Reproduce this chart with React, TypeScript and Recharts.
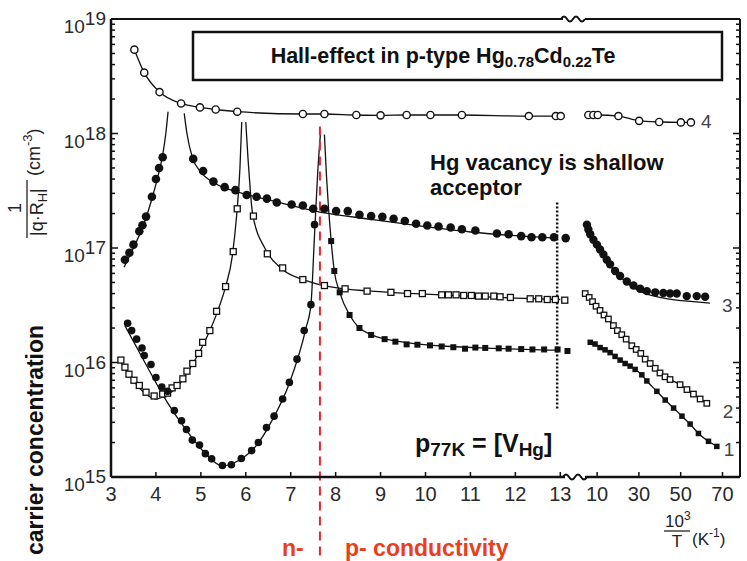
import React from 'react';
import { ComposedChart, Line, Scatter, XAxis, YAxis, ReferenceLine } from 'recharts';

type Pt = [number, number];

// left section: x = 10^3/T (3..13); right section: x in its own axis units (10..70)
const leftTicks = [3, 4, 5, 6, 7, 8, 9, 10, 11, 12, 13];
const rightTicks = [10, 30, 50, 70];
const decades = [15, 16, 17, 18, 19];

const curve4Left: Pt[] = [
  [3.52, 5.4e18], [3.74, 3.4e18], [4.08, 2.3e18], [4.56, 1.83e18], [4.98, 1.69e18], [5.33, 1.62e18],
  [5.81, 1.55e18], [7.27, 1.48e18], [7.75, 1.48e18], [8.46, 1.45e18], [9.0, 1.44e18], [9.58, 1.45e18],
  [10.11, 1.45e18], [10.81, 1.45e18], [12.3, 1.42e18], [12.9, 1.42e18], [13.01, 1.42e18],
];
const curve4Right: Pt[] = [
  [5.8, 1.45e18], [8.2, 1.45e18], [10.3, 1.45e18], [20.2, 1.42e18], [30.1, 1.29e18], [39.7, 1.26e18],
  [50.1, 1.25e18], [54.9, 1.25e18],
];

const curve3RiseDots: Pt[] = [
  [3.31, 7.9e16], [3.41, 9.1e16], [3.5, 1.07e17], [3.63, 1.4e17], [3.7, 1.58e17], [3.78, 1.88e17],
  [3.91, 2.8e17], [4.0, 4.0e17], [4.07, 5.0e17], [4.15, 6.2e17],
];
const curve3RiseFit: Pt[] = [
  [3.29, 6.8e16], [3.5, 1.0e17], [3.7, 1.5e17], [3.9, 2.6e17], [4.05, 4.3e17], [4.15, 6.5e17],
  [4.22, 1.0e18], [4.27, 1.55e18],
];
const curve3FallDots: Pt[] = [
  [4.83, 6.0e17], [5.05, 4.7e17], [5.28, 3.8e17], [5.53, 3.4e17], [5.77, 3.2e17], [6.02, 2.9e17],
  [6.24, 2.8e17], [6.47, 2.7e17], [6.69, 2.5e17], [7.02, 2.4e17], [7.27, 2.35e17], [7.5, 2.2e17],
  [7.75, 2.2e17], [8.01, 2.1e17], [8.27, 2.1e17], [8.53, 1.95e17], [8.79, 1.9e17], [9.04, 1.87e17],
  [9.29, 1.8e17], [9.54, 1.72e17], [9.79, 1.63e17], [10.04, 1.57e17], [10.29, 1.54e17], [10.56, 1.51e17],
  [10.81, 1.46e17], [11.11, 1.42e17], [11.59, 1.34e17], [11.85, 1.32e17], [12.13, 1.27e17],
  [12.36, 1.24e17], [12.6, 1.24e17], [12.86, 1.24e17], [13.12, 1.22e17],
];
const curve3FallFit: Pt[] = [
  [4.63, 1.5e18], [4.69, 1.0e18], [4.81, 6.2e17], [5.0, 4.6e17], [5.3, 3.7e17], [5.8, 3.1e17],
  [6.56, 2.6e17], [7.68, 2.05e17], [8.79, 1.78e17], [9.91, 1.55e17], [11.0, 1.38e17], [12.0, 1.28e17],
  [12.9, 1.22e17],
];
const curve3RightDots: Pt[] = [
  [5.1, 1.6e17], [5.8, 1.45e17], [6.7, 1.32e17], [8.2, 1.18e17], [9.9, 1.07e17], [11.4, 9.7e16],
  [13.0, 8.8e16], [14.6, 7.9e16], [16.2, 7.2e16], [18.6, 6.3e16], [21.0, 5.7e16], [24.2, 5.1e16],
  [27.4, 4.7e16], [30.6, 4.4e16], [33.8, 4.2e16], [37.8, 4.1e16], [41.7, 4.05e16], [44.9, 4.0e16],
  [48.1, 4.0e16], [52.9, 3.8e16], [57.7, 3.8e16], [61.7, 3.75e16],
];
const curve3RightFit: Pt[] = [
  [5.1, 1.6e17], [9.9, 1.05e17], [16.2, 7.0e16], [21.0, 5.6e16], [27.4, 4.5e16], [33.8, 3.95e16],
  [40, 3.7e16], [48, 3.5e16], [56, 3.4e16], [64, 3.3e16],
];

const curve2RiseDots: Pt[] = [
  [3.22, 1.05e16], [3.31, 9.1e15], [3.4, 7.9e15], [3.51, 7.0e15], [3.63, 6.3e15], [3.78, 5.5e15],
  [3.96, 5.1e15], [4.15, 5.3e15], [4.26, 5.4e15], [4.36, 6.0e15], [4.47, 6.3e15], [4.6, 7.2e15],
  [4.69, 8.4e15], [4.82, 9.8e15], [4.95, 1.2e16], [5.04, 1.5e16], [5.2, 1.9e16], [5.35, 2.8e16],
  [5.55, 4.6e16], [5.72, 9.3e16], [5.81, 2.2e17],
];
const curve2RiseFit: Pt[] = [
  [3.22, 1.0e16], [3.5, 6.9e15], [3.8, 5.2e15], [4.0, 4.8e15], [4.2, 5.1e15], [4.5, 6.3e15],
  [4.8, 9.5e15], [5.0, 1.3e16], [5.2, 1.9e16], [5.4, 3.0e16], [5.55, 4.6e16], [5.7, 8.5e16],
  [5.8, 2.0e17], [5.87, 5.0e17], [5.91, 1.26e18],
];
const curve2FallDots: Pt[] = [
  [6.17, 1.9e17], [6.48, 8.9e16], [6.82, 6.7e16], [7.27, 5.3e16], [7.75, 4.7e16], [8.21, 4.4e16],
  [8.7, 4.2e16], [9.23, 4.1e16], [9.6, 4.0e16], [9.93, 4.0e16], [10.36, 3.9e16], [10.51, 3.9e16],
  [10.68, 3.9e16], [10.85, 3.85e16], [11.02, 3.85e16], [11.18, 3.8e16], [11.33, 3.8e16], [11.52, 3.8e16],
  [11.66, 3.75e16], [11.89, 3.7e16], [12.33, 3.6e16], [12.52, 3.6e16], [12.71, 3.55e16], [12.89, 3.55e16],
  [13.1, 3.5e16],
];
const curve2FallFit: Pt[] = [
  [6.0, 1.26e18], [6.05, 6.0e17], [6.1, 3.2e17], [6.15, 2.0e17], [6.44, 9.7e16], [6.82, 6.5e16],
  [7.34, 5.2e16], [8.0, 4.5e16], [8.79, 4.2e16], [10.0, 3.95e16], [11.0, 3.8e16], [12.0, 3.65e16],
  [13.0, 3.55e16],
];
const curve2Right: Pt[] = [
  [4.3, 4.0e16], [6.2, 3.7e16], [7.8, 3.4e16], [9.5, 3.1e16], [11.4, 2.85e16], [13.3, 2.6e16],
  [15.4, 2.4e16], [17.8, 2.1e16], [19.7, 1.9e16], [21.8, 1.75e16], [23.9, 1.6e16], [26.6, 1.4e16],
  [28.7, 1.3e16], [30.9, 1.2e16], [33.0, 1.07e16], [35.4, 9.8e15], [37.8, 8.9e15], [40.1, 8.1e15],
  [42.5, 7.5e15], [44.9, 7.1e15], [49.7, 6.4e15], [53.0, 5.8e15], [56.1, 5.3e15], [59.3, 4.8e15],
  [62.5, 4.4e15],
];

const curve1LeftDots: Pt[] = [
  [3.37, 2.2e16], [3.46, 1.9e16], [3.57, 1.6e16], [3.69, 1.34e16], [3.74, 1.15e16], [3.89, 9.6e15],
  [4.0, 7.4e15], [4.13, 6.1e15], [4.26, 5.6e15], [4.41, 3.8e15], [4.57, 3.1e15], [4.68, 2.6e15],
  [4.81, 2.1e15], [4.97, 1.9e15], [5.1, 1.6e15], [5.24, 1.44e15], [5.48, 1.26e15], [5.68, 1.28e15],
  [5.9, 1.45e15], [6.13, 1.7e15], [6.28, 2.0e15], [6.46, 2.7e15], [6.63, 3.4e15], [6.82, 4.8e15],
  [6.97, 6.7e15], [7.14, 1.07e16], [7.3, 1.9e16], [7.45, 3.2e16], [7.53, 1.6e17],
];
const curve1LeftFit: Pt[] = [
  [3.31, 2.1e16], [3.76, 9.9e15], [4.25, 4.5e15], [4.73, 2.4e15], [5.1, 1.6e15], [5.48, 1.25e15],
  [5.85, 1.4e15], [6.22, 1.85e15], [6.6, 3.2e15], [6.97, 6.6e15], [7.34, 2.0e16], [7.45, 3.2e16],
  [7.53, 1.3e17], [7.6, 4.5e17], [7.66, 9.8e17],
];
const curve1FallDots: Pt[] = [
  [7.9, 1.15e17], [7.97, 6.3e16], [8.09, 4.1e16], [8.31, 2.6e16], [8.53, 2.0e16], [8.79, 1.74e16],
  [9.09, 1.6e16], [9.33, 1.52e16], [9.58, 1.44e16], [9.82, 1.43e16], [10.1, 1.41e16], [10.36, 1.38e16],
  [10.62, 1.36e16], [10.88, 1.32e16], [11.11, 1.35e16], [11.33, 1.34e16], [11.63, 1.33e16],
  [11.85, 1.32e16], [12.13, 1.31e16], [12.38, 1.3e16], [12.64, 1.3e16], [12.94, 1.3e16], [13.16, 1.26e16],
];
const curve1FallFit: Pt[] = [
  [7.75, 9.8e17], [7.8, 4.0e17], [7.9, 1.15e17], [7.97, 6.3e16], [8.09, 4.1e16], [8.31, 2.6e16],
  [8.53, 2.0e16], [8.79, 1.75e16], [9.54, 1.5e16], [10.29, 1.4e16], [11.5, 1.33e16], [12.9, 1.28e16],
];
const curve1Right: Pt[] = [
  [6.7, 1.5e16], [9.0, 1.45e16], [11.4, 1.35e16], [13.8, 1.29e16], [16.2, 1.22e16], [18.6, 1.13e16],
  [21.0, 1.05e16], [23.4, 9.8e15], [25.8, 9.3e15], [28.2, 8.7e15], [31.4, 7.8e15], [33.8, 6.9e15],
  [38.6, 5.6e15], [42.6, 4.7e15], [46.6, 4.0e15], [50.6, 3.4e15], [54.5, 2.9e15], [58.5, 2.4e15],
  [63.3, 2.05e15], [67.3, 1.85e15],
];

const crossoverX = 7.65; // n/p conductivity change
const cutoffX = 12.93; // 77 K

// the broken axis: right section is drawn compressed after the 13 tick
const RIGHT_START = 13.82;
const RIGHT_SCALE = 0.0465;
const toRight = (x: number) => RIGHT_START + (x - 10) * RIGHT_SCALE;
const asLeft = (pts: Pt[]) => pts.map(([x, y]) => ({ x, y }));
const asRight = (pts: Pt[]) => pts.map(([x, y]) => ({ x: toRight(x), y }));

const xTicks = [...leftTicks, ...rightTicks.map(toRight)];
const xLabel = (v: number) => {
  if (v < 13.5) return String(Math.round(v));
  const i = rightTicks.findIndex((t) => Math.abs(toRight(t) - v) < 1e-6);
  return i >= 0 ? String(rightTicks[i]) : '';
};
const yTicks: number[] = [];
decades.forEach((d) => {
  if (d === 19) {
    yTicks.push(1e19);
    return;
  }
  for (let m = 1; m <= 9; m++) yTicks.push(m * Math.pow(10, d));
});
const isMajor = (v: number) => {
  const e = Math.round(Math.log10(v));
  return Math.abs(v - Math.pow(10, e)) < v * 1e-6;
};

const INK = '#111';
const NUM_FONT = "'Liberation Sans Narrow', 'Liberation Sans', Arial, sans-serif";
const BOLD_FONT = "'Liberation Sans', Arial, sans-serif";
const RED = '#e8401c';

const LeftTick = (p: any) => {
  const v = p.payload.value;
  const major = isMajor(v);
  const e = Math.round(Math.log10(v));
  return (
    <g>
      <line x1={p.x} y1={p.y} x2={p.x + (major ? 7 : 4)} y2={p.y} stroke={INK} strokeWidth={1.5} />
      {major && (
        <text x={p.x - 5} y={p.y + 14} textAnchor="end" fontFamily={NUM_FONT} fontSize={19} fill="#2a2a2a">
          10<tspan dy={-8}>{e}</tspan>
        </text>
      )}
    </g>
  );
};
const RightTick = (p: any) => {
  const major = isMajor(p.payload.value);
  return <line x1={p.x} y1={p.y} x2={p.x - (major ? 7 : 4)} y2={p.y} stroke={INK} strokeWidth={1.5} />;
};
const BottomTick = (p: any) => (
  <g>
    <line x1={p.x} y1={p.y} x2={p.x} y2={p.y - 5} stroke={INK} strokeWidth={1.5} />
    <text x={p.x} y={p.y + 24} textAnchor="middle" fontFamily={NUM_FONT} fontSize={20} fill="#2a2a2a">
      {xLabel(p.payload.value)}
    </text>
  </g>
);
const TopTick = (p: any) => <line x1={p.x} y1={p.y} x2={p.x} y2={p.y + 5} stroke={INK} strokeWidth={1.5} />;

const openCircle = (p: any) => <circle cx={p.cx} cy={p.cy} r={3.6} fill="#fff" stroke={INK} strokeWidth={1.4} />;
const dot = (r: number) => (p: any) => <circle cx={p.cx} cy={p.cy} r={r} fill={INK} />;
const openSquare = (s: number) => (p: any) => (
  <rect x={p.cx - s / 2} y={p.cy - s / 2} width={s} height={s} fill="#fff" stroke={INK} strokeWidth={1.3} />
);
const filledSquare = (s: number) => (p: any) => (
  <rect x={p.cx - s / 2} y={p.cy - s / 2} width={s} height={s} fill={INK} />
);

const endLabel = (text: string, count: number, dx: number, dy: number) => (p: any) =>
  p.index === count - 1 ? (
    <text key="end" x={p.x + dx} y={p.y + dy} fontFamily={NUM_FONT} fontSize={19} fill="#444">
      {text}
    </text>
  ) : (
    <g key={`e${p.index}`} />
  );

const axisIds = { xAxisId: 'b', yAxisId: 'l' };

const fit = (data: { x: number; y: number }[], key: string, label?: any) => (
  <Line
    key={key}
    {...axisIds}
    data={data}
    dataKey="y"
    type="monotone"
    stroke={INK}
    strokeWidth={1.3}
    dot={false}
    activeDot={false}
    label={label}
    isAnimationActive={false}
  />
);
const marks = (data: { x: number; y: number }[], key: string, shape: any) => (
  <Scatter key={key} {...axisIds} data={data} dataKey="y" shape={shape} isAnimationActive={false} />
);

const Overlay = () => (
  <svg width={747} height={561} style={{ position: 'absolute', left: 0, top: 0, pointerEvents: 'none' }}>
    {/* title box */}
    <rect x={193} y={32} width={529} height={48} fill="#fff" stroke={INK} strokeWidth={2.5} />
    <text x={443} y={63} textAnchor="middle" fontFamily={BOLD_FONT} fontWeight={700} fontSize={21.5} fill={INK}>
      Hall-effect in p-type Hg<tspan fontSize={15} dy={4}>0.78</tspan>
      <tspan dy={-4}>Cd</tspan>
      <tspan fontSize={15} dy={4}>0.22</tspan>
      <tspan dy={-4}>Te</tspan>
    </text>

    <text fontFamily={BOLD_FONT} fontWeight={700} fontSize={22} fill={INK}>
      <tspan x={430} y={170}>Hg vacancy is shallow</tspan>
      <tspan x={430} y={195}>acceptor</tspan>
    </text>
    <text x={415} y={452} fontFamily={BOLD_FONT} fontWeight={700} fontSize={25} fill={INK}>
      p<tspan fontSize={19} dy={4}>77K</tspan>
      <tspan dy={-4}> = [V</tspan>
      <tspan fontSize={19} dy={4}>Hg</tspan>
      <tspan dy={-4}>]</tspan>
    </text>

    <text y={556} fontFamily={BOLD_FONT} fontWeight={700} fontSize={23} fill={RED}>
      <tspan x={282}>n-</tspan>
      <tspan x={345}>p- conductivity</tspan>
    </text>

    {/* y axis titles */}
    <text transform="rotate(-90)" x={-555} y={43} fontFamily={BOLD_FONT} fontWeight={700} fontSize={23} fill={INK}>
      carrier concentration
    </text>
    <text transform="rotate(-90)" x={-208} y={21} textAnchor="middle" fontFamily={NUM_FONT} fontSize={18} fill="#222">
      1
    </text>
    <line x1={27} y1={180} x2={27} y2={238} stroke="#222" strokeWidth={1.3} />
    <text transform="rotate(-90)" x={-236} y={43} fontFamily={NUM_FONT} fontSize={18} fill="#222">
      |q·R<tspan fontSize={13} dy={4}>H</tspan>
      <tspan dy={-4}>|</tspan>
    </text>
    <text transform="rotate(-90)" x={-176} y={40} fontFamily={NUM_FONT} fontSize={18} fill="#222">
      (cm<tspan fontSize={13} dy={-8}>-3</tspan>
      <tspan dy={8}>)</tspan>
    </text>

    {/* x axis title */}
    <text x={665} y={527} fontFamily={NUM_FONT} fontSize={17} fill="#222">
      10<tspan fontSize={12} dy={-7}>3</tspan>
    </text>
    <line x1={664} y1={531} x2={690} y2={531} stroke="#222" strokeWidth={1.3} />
    <text x={677} y={547} textAnchor="middle" fontFamily={NUM_FONT} fontSize={17} fill="#222">
      T
    </text>
    <text x={692} y={545} fontFamily={NUM_FONT} fontSize={17} fill="#222">
      (K<tspan fontSize={12} dy={-8}>-1</tspan>
      <tspan dy={8}>)</tspan>
    </text>

    {/* axis break marks */}
    <rect x={565} y={474} width={20} height={6} fill="#fff" />
    <path d="M563 477 Q566 472 569 477 T575 477 T581 477 T587 477" fill="none" stroke={INK} strokeWidth={2} />
    <rect x={563} y={16} width={22} height={6} fill="#fff" />
    <path d="M561 19 Q564 14 567 19 T573 19 T579 19 T585 19" fill="none" stroke={INK} strokeWidth={2} />
  </svg>
);

export default function App() {
  return (
    <div style={{ position: 'absolute', left: 0, top: 0, width: 747, height: 561, background: '#fff' }}>
      <ComposedChart width={747} height={561} margin={{ top: 0, right: 0, bottom: 0, left: 0 }}>
        <XAxis
          xAxisId="b"
          dataKey="x"
          type="number"
          domain={[3, 17]}
          ticks={xTicks}
          interval={0}
          tickSize={0}
          tickMargin={0}
          tickLine={false}
          tick={<BottomTick />}
          height={84}
          axisLine={{ stroke: INK, strokeWidth: 2.5 }}
          allowDataOverflow
        />
        <XAxis
          xAxisId="t"
          orientation="top"
          type="number"
          domain={[3, 17]}
          ticks={xTicks}
          interval={0}
          tickSize={0}
          tickMargin={0}
          tickLine={false}
          tick={<TopTick />}
          height={19}
          axisLine={{ stroke: INK, strokeWidth: 2 }}
          allowDataOverflow
        />
        <YAxis
          yAxisId="l"
          dataKey="y"
          type="number"
          scale="log"
          domain={[1e15, 1e19]}
          ticks={yTicks}
          interval={0}
          tickSize={0}
          tickMargin={0}
          tickLine={false}
          tick={<LeftTick />}
          width={111}
          axisLine={{ stroke: INK, strokeWidth: 2.5 }}
          allowDataOverflow
        />
        <YAxis
          yAxisId="r"
          orientation="right"
          type="number"
          scale="log"
          domain={[1e15, 1e19]}
          ticks={yTicks}
          interval={0}
          tickSize={0}
          tickMargin={0}
          tickLine={false}
          tick={<RightTick />}
          width={7}
          axisLine={{ stroke: INK, strokeWidth: 2 }}
          allowDataOverflow
        />

        {fit(asLeft(curve4Left), 'c4l')}
        {fit(asRight(curve4Right), 'c4r', endLabel('4', curve4Right.length, 10, 6))}
        {fit(asLeft(curve3RiseFit), 'c3a')}
        {fit(asLeft(curve3FallFit), 'c3b')}
        {fit(asRight(curve3RightFit), 'c3r', endLabel('3', curve3RightFit.length, 12, 9))}
        {fit(asLeft(curve2RiseFit), 'c2a')}
        {fit(asLeft(curve2FallFit), 'c2b')}
        {fit(asRight(curve2Right), 'c2r', endLabel('2', curve2Right.length, 16, 15))}
        {fit(asLeft(curve1LeftFit), 'c1a')}
        {fit(asLeft(curve1FallFit), 'c1b')}
        {fit(asRight(curve1Right), 'c1r', endLabel('1', curve1Right.length, 7, 10))}

        {marks(asLeft(curve4Left), 'm4l', openCircle)}
        {marks(asRight(curve4Right), 'm4r', openCircle)}
        {marks(asLeft(curve3RiseDots), 'm3a', dot(4.3))}
        {marks(asLeft(curve3FallDots), 'm3b', dot(4.3))}
        {marks(asRight(curve3RightDots), 'm3r', dot(4.2))}
        {marks(asLeft(curve2RiseDots), 'm2a', openSquare(6))}
        {marks(asLeft(curve2FallDots), 'm2b', openSquare(6))}
        {marks(asRight(curve2Right), 'm2r', openSquare(5.5))}
        {marks(asLeft(curve1LeftDots), 'm1a', dot(3.8))}
        {marks(asLeft(curve1FallDots), 'm1b', filledSquare(6))}
        {marks(asRight(curve1Right), 'm1r', filledSquare(5.5))}

        <ReferenceLine
          {...axisIds}
          segment={[{ x: cutoffX, y: 2.5e17 }, { x: cutoffX, y: 3.8e15 }]}
          stroke={INK}
          strokeWidth={2.5}
          strokeDasharray="2 2"
          ifOverflow="visible"
        />
        <ReferenceLine
          {...axisIds}
          segment={[{ x: crossoverX, y: 1.15e18 }, { x: crossoverX, y: 1.8e14 }]}
          stroke="#e3262a"
          strokeWidth={2}
          strokeDasharray="9 6"
          ifOverflow="visible"
        />
      </ComposedChart>
      <Overlay />
    </div>
  );
}
